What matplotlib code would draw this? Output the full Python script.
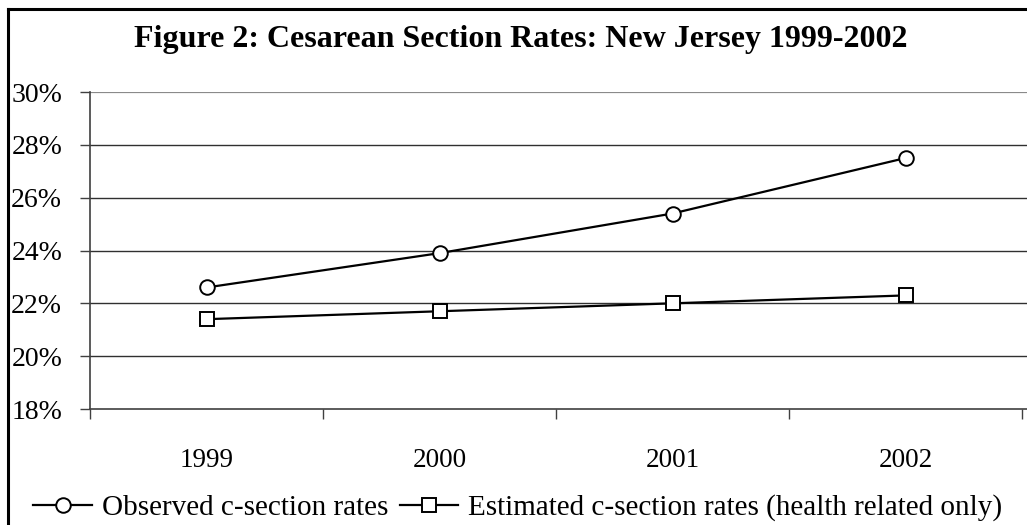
import matplotlib
matplotlib.use("Agg")
import matplotlib.pyplot as plt
from matplotlib.lines import Line2D
from matplotlib.ticker import FixedLocator, PercentFormatter

years = ["1999", "2000", "2001", "2002"]
observed = [22.6, 23.9, 25.4, 27.5]
estimated = [21.4, 21.7, 22.0, 22.3]
y_ticks = [18, 20, 22, 24, 26, 28, 30]

plt.rcParams["font.family"] = ["Liberation Serif", "DejaVu Serif"]

W, H = 1027, 525
fig = plt.figure(figsize=(W / 100, H / 100), dpi=100)

# plot area in pixel terms: left edge 90, top 92, bottom 409, running off the right side
left, top, bottom = 90, 92, 409
ax = fig.add_axes([left / W, 1 - bottom / H, 1 - left / W, (bottom - top) / H])

xs = list(range(1, len(years) + 1))
ax.plot(xs, observed, color="black", lw=1.6, marker="o", ms=10.5,
        mfc="white", mec="black", mew=1.4, label="Observed c-section rates")
ax.plot(xs, estimated, color="black", lw=1.6, marker="s", ms=10.5,
        mfc="white", mec="black", mew=1.4,
        label="Estimated c-section rates (health related only)")

ax.set_xlim(0.5, 0.5 + (W - left) / 233)
ax.set_ylim(18, 30)
ax.set_yticks(y_ticks)
ax.yaxis.set_major_formatter(PercentFormatter(decimals=0))

# category boundaries get the tick marks, labels sit between them
ax.xaxis.set_major_locator(FixedLocator([0.5, 1.5, 2.5, 3.5, 4.5]))
ax.xaxis.set_minor_locator(FixedLocator(xs))
ax.set_xticklabels([], minor=False)
ax.set_xticklabels(years, minor=True)
ax.tick_params(axis="x", which="major", length=7, width=1, color="#404040")
ax.tick_params(axis="x", which="minor", length=0, pad=28, labelsize=19.5)
ax.tick_params(axis="y", length=7, width=1, color="#404040", pad=13, labelsize=20)

for y in y_ticks[1:-1]:
    ax.axhline(y, color="#303030", lw=1, zorder=0)
ax.axhline(30, color="#8a8a8a", lw=1.6, zorder=0)

for s in ("top", "right"):
    ax.spines[s].set_visible(False)
for s in ("left", "bottom"):
    ax.spines[s].set_color("#404040")
    ax.spines[s].set_linewidth(1.2)

fig.text(521 / W, 1 - 40 / H, "Figure 2: Cesarean Section Rates: New Jersey 1999-2002",
         ha="center", va="center", fontsize=23, fontweight="bold")

fig.legend(loc="center", bbox_to_anchor=(518 / W, 1 - 508 / H), ncol=2, frameon=False,
           fontsize=21, handlelength=2.0, handletextpad=0.35, columnspacing=0.4,
           borderpad=0, borderaxespad=0)

# outer chart border: only its left and top edges fall inside the image
x0, y0 = 8 / W, 1 - 9 / H
fig.add_artist(Line2D([x0, x0], [0, y0], transform=fig.transFigure, color="black", lw=2.2))
fig.add_artist(Line2D([x0, 1], [y0, y0], transform=fig.transFigure, color="black", lw=2.2))

fig.savefig("out.png", dpi=100)
